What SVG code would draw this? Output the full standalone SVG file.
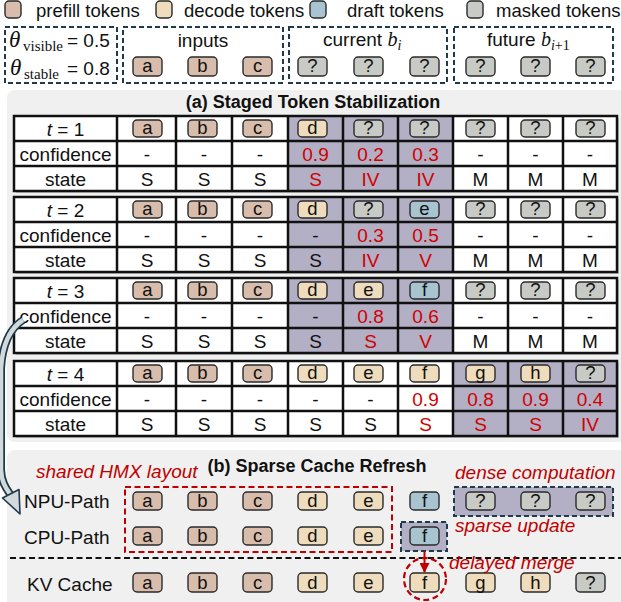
<svg xmlns="http://www.w3.org/2000/svg" width="621" height="602" viewBox="0 0 621 602">
<defs>
<style>
text{font-family:"Liberation Sans",Arial,sans-serif;fill:#111}
.lg{font-size:18.5px}
.t19{font-size:19px}
.c{text-anchor:middle}
.tk{font-size:18.5px;text-anchor:middle}
.red{fill:#d00000}
.ri{fill:#c00000;font-style:italic;font-size:19px}
.bold{font-weight:bold;font-size:18px;text-anchor:middle}
.serif{font-family:"Liberation Serif","Times New Roman",serif}
.tok{stroke:#2a2a2a;stroke-width:1.4}
.pre{fill:#d9bdac}
.dec{fill:#eedcbd}
.dra{fill:#a8c4d0}
.msk{fill:#c8cbc5}
.shade{fill:#b3afc5}
.dbox{fill:none;stroke:#1f3a4d;stroke-width:2;stroke-dasharray:5 3}
.grid{stroke:#111;stroke-width:2.5;fill:none}
.cellbg{fill:#fff}
.sec{fill:#f0f0f0}
</style>
<marker id="redhead" viewBox="0 0 10 10" refX="9" refY="5" markerWidth="5" markerHeight="5" orient="auto">
<path d="M0,0 L10,5 L0,10 z" fill="#c00000"/>
</marker>
</defs>
<rect width="621" height="602" fill="#fff"/>

<!-- legend -->
<g id="legend">
<rect class="tok pre" x="5" y="1" width="16" height="17" rx="4"/>
<text class="lg" x="36" y="17">prefill tokens</text>
<rect class="tok dec" x="156" y="1" width="16" height="17" rx="4"/>
<text class="lg" x="184" y="17">decode tokens</text>
<rect class="tok dra" x="310" y="1" width="16" height="17" rx="4"/>
<text class="lg" x="347" y="17">draft tokens</text>
<rect class="tok msk" x="467" y="1" width="16" height="17" rx="4"/>
<text class="lg" x="496" y="17">masked tokens</text>
</g>

<!-- thresholds -->
<g id="thresholds">
<rect class="dbox" x="5" y="27" width="112" height="56"/>
<text x="9" y="47" class="serif" font-style="italic" font-size="23">θ</text>
<text x="23" y="51" class="serif" font-size="15">visible</text>
<text x="67" y="47" class="t19">= 0.5</text>
<text x="10" y="75" class="serif" font-style="italic" font-size="23">θ</text>
<text x="24" y="79" class="serif" font-size="15">stable</text>
<text x="67" y="75" class="t19">= 0.8</text>
</g>

<g id="inputs">
<rect class="dbox" x="123" y="27" width="160" height="56"/>
<text class="t19 c" x="203" y="47">inputs</text>
<rect class="tok pre" x="133" y="57" width="29" height="19" rx="4"/><text class="tk" x="147.5" y="72">a</text>
<rect class="tok pre" x="188" y="57" width="29" height="19" rx="4"/><text class="tk" x="202.5" y="72">b</text>
<rect class="tok pre" x="243" y="57" width="29" height="19" rx="4"/><text class="tk" x="257.5" y="72">c</text>
</g>

<g id="current">
<rect class="dbox" x="289" y="27" width="158" height="56"/>
<text class="t19" x="323" y="46">current <tspan class="serif" font-style="italic" font-size="20">b</tspan><tspan class="serif" font-style="italic" font-size="14" dy="4">i</tspan></text>
<rect class="tok msk" x="298" y="57" width="29" height="19" rx="4"/><text class="tk" x="312.5" y="72">?</text>
<rect class="tok msk" x="354" y="57" width="29" height="19" rx="4"/><text class="tk" x="368.5" y="72">?</text>
<rect class="tok msk" x="410" y="57" width="29" height="19" rx="4"/><text class="tk" x="424.5" y="72">?</text>
</g>

<g id="future">
<rect class="dbox" x="454" y="27" width="159" height="56"/>
<text class="t19" x="487" y="46">future <tspan class="serif" font-style="italic" font-size="20">b</tspan><tspan class="serif" font-size="14" dy="4"><tspan font-style="italic">i</tspan>+1</tspan></text>
<rect class="tok msk" x="466" y="57" width="29" height="19" rx="4"/><text class="tk" x="480.5" y="72">?</text>
<rect class="tok msk" x="521" y="57" width="29" height="19" rx="4"/><text class="tk" x="535.5" y="72">?</text>
<rect class="tok msk" x="576" y="57" width="29" height="19" rx="4"/><text class="tk" x="590.5" y="72">?</text>
</g>

<!-- section a -->
<g id="section-a">
<rect class="sec" x="7" y="90" width="630" height="352" rx="8"/>
<text class="bold" x="313" y="108">(a) Staged Token Stabilization</text>

<!-- table t=1 -->
<g id="table-t1">
<rect x="16" y="118" width="603" height="75" fill="#c4c4c4"/>
<rect class="cellbg" x="14" y="116" width="603" height="75"/>
<rect class="shade" x="288" y="116" width="165" height="75"/>
<path class="grid" d="M14,141H617M14,166H617M117,116V191M176,116V191M232,116V191M288,116V191M343,116V191M398,116V191M453,116V191M508,116V191M563,116V191"/>
<rect class="grid" x="14" y="116" width="603" height="75" stroke-width="3"/>
<text class="t19 c" x="65.5" y="135.5"><tspan font-style="italic">t</tspan> = 1</text>
<rect class="tok pre" x="133" y="120" width="29" height="17" rx="4"/><text class="tk" x="147.5" y="134">a</text>
<rect class="tok pre" x="188" y="120" width="29" height="17" rx="4"/><text class="tk" x="202.5" y="134">b</text>
<rect class="tok pre" x="243" y="120" width="29" height="17" rx="4"/><text class="tk" x="257.5" y="134">c</text>
<rect class="tok dec" x="298" y="120" width="29" height="17" rx="4"/><text class="tk" x="312.5" y="134">d</text>
<rect class="tok msk" x="354" y="120" width="29" height="17" rx="4"/><text class="tk" x="368.5" y="134">?</text>
<rect class="tok msk" x="410" y="120" width="29" height="17" rx="4"/><text class="tk" x="424.5" y="134">?</text>
<rect class="tok msk" x="466" y="120" width="29" height="17" rx="4"/><text class="tk" x="480.5" y="134">?</text>
<rect class="tok msk" x="521" y="120" width="29" height="17" rx="4"/><text class="tk" x="535.5" y="134">?</text>
<rect class="tok msk" x="576" y="120" width="29" height="17" rx="4"/><text class="tk" x="590.5" y="134">?</text>
<text class="t19 c" x="65.5" y="160.5">confidence</text>
<text class="t19 c" x="147" y="160.5">-</text><text class="t19 c" x="204" y="160.5">-</text><text class="t19 c" x="260" y="160.5">-</text>
<text class="t19 c red" x="315.5" y="160.5">0.9</text><text class="t19 c red" x="370.5" y="160.5">0.2</text><text class="t19 c red" x="425.5" y="160.5">0.3</text>
<text class="t19 c" x="480.5" y="160.5">-</text><text class="t19 c" x="535.5" y="160.5">-</text><text class="t19 c" x="590" y="160.5">-</text>
<text class="t19 c" x="65.5" y="185.5">state</text>
<text class="t19 c" x="147" y="185.5">S</text><text class="t19 c" x="204" y="185.5">S</text><text class="t19 c" x="260" y="185.5">S</text>
<text class="t19 c red" x="315.5" y="185.5">S</text><text class="t19 c red" x="370.5" y="185.5">IV</text><text class="t19 c red" x="425.5" y="185.5">IV</text>
<text class="t19 c" x="480.5" y="185.5">M</text><text class="t19 c" x="535.5" y="185.5">M</text><text class="t19 c" x="590" y="185.5">M</text>
</g>

<!-- table t=2 -->
<g id="table-t2">
<rect x="16" y="199" width="603" height="75" fill="#c4c4c4"/>
<rect class="cellbg" x="14" y="197" width="603" height="75"/>
<rect class="shade" x="288" y="197" width="165" height="75"/>
<path class="grid" d="M14,222H617M14,247H617M117,197V272M176,197V272M232,197V272M288,197V272M343,197V272M398,197V272M453,197V272M508,197V272M563,197V272"/>
<rect class="grid" x="14" y="197" width="603" height="75" stroke-width="3"/>
<text class="t19 c" x="65.5" y="216.5"><tspan font-style="italic">t</tspan> = 2</text>
<rect class="tok pre" x="133" y="201" width="29" height="17" rx="4"/><text class="tk" x="147.5" y="215">a</text>
<rect class="tok pre" x="188" y="201" width="29" height="17" rx="4"/><text class="tk" x="202.5" y="215">b</text>
<rect class="tok pre" x="243" y="201" width="29" height="17" rx="4"/><text class="tk" x="257.5" y="215">c</text>
<rect class="tok dec" x="298" y="201" width="29" height="17" rx="4"/><text class="tk" x="312.5" y="215">d</text>
<rect class="tok msk" x="354" y="201" width="29" height="17" rx="4"/><text class="tk" x="368.5" y="215">?</text>
<rect class="tok dra" x="410" y="201" width="29" height="17" rx="4"/><text class="tk" x="424.5" y="215">e</text>
<rect class="tok msk" x="466" y="201" width="29" height="17" rx="4"/><text class="tk" x="480.5" y="215">?</text>
<rect class="tok msk" x="521" y="201" width="29" height="17" rx="4"/><text class="tk" x="535.5" y="215">?</text>
<rect class="tok msk" x="576" y="201" width="29" height="17" rx="4"/><text class="tk" x="590.5" y="215">?</text>
<text class="t19 c" x="65.5" y="241.5">confidence</text>
<text class="t19 c" x="147" y="241.5">-</text><text class="t19 c" x="204" y="241.5">-</text><text class="t19 c" x="260" y="241.5">-</text>
<text class="t19 c" x="315.5" y="241.5">-</text><text class="t19 c red" x="370.5" y="241.5">0.3</text><text class="t19 c red" x="425.5" y="241.5">0.5</text>
<text class="t19 c" x="480.5" y="241.5">-</text><text class="t19 c" x="535.5" y="241.5">-</text><text class="t19 c" x="590" y="241.5">-</text>
<text class="t19 c" x="65.5" y="266.5">state</text>
<text class="t19 c" x="147" y="266.5">S</text><text class="t19 c" x="204" y="266.5">S</text><text class="t19 c" x="260" y="266.5">S</text>
<text class="t19 c" x="315.5" y="266.5">S</text><text class="t19 c red" x="370.5" y="266.5">IV</text><text class="t19 c red" x="425.5" y="266.5">V</text>
<text class="t19 c" x="480.5" y="266.5">M</text><text class="t19 c" x="535.5" y="266.5">M</text><text class="t19 c" x="590" y="266.5">M</text>
</g>

<!-- table t=3 -->
<g id="table-t3">
<rect x="16" y="280" width="603" height="75" fill="#c4c4c4"/>
<rect class="cellbg" x="14" y="278" width="603" height="75"/>
<rect class="shade" x="288" y="278" width="165" height="75"/>
<path class="grid" d="M14,303H617M14,328H617M117,278V353M176,278V353M232,278V353M288,278V353M343,278V353M398,278V353M453,278V353M508,278V353M563,278V353"/>
<rect class="grid" x="14" y="278" width="603" height="75" stroke-width="3"/>
<text class="t19 c" x="65.5" y="297.5"><tspan font-style="italic">t</tspan> = 3</text>
<rect class="tok pre" x="133" y="282" width="29" height="17" rx="4"/><text class="tk" x="147.5" y="296">a</text>
<rect class="tok pre" x="188" y="282" width="29" height="17" rx="4"/><text class="tk" x="202.5" y="296">b</text>
<rect class="tok pre" x="243" y="282" width="29" height="17" rx="4"/><text class="tk" x="257.5" y="296">c</text>
<rect class="tok dec" x="298" y="282" width="29" height="17" rx="4"/><text class="tk" x="312.5" y="296">d</text>
<rect class="tok dec" x="354" y="282" width="29" height="17" rx="4"/><text class="tk" x="368.5" y="296">e</text>
<rect class="tok dra" x="410" y="282" width="29" height="17" rx="4"/><text class="tk" x="424.5" y="296">f</text>
<rect class="tok msk" x="466" y="282" width="29" height="17" rx="4"/><text class="tk" x="480.5" y="296">?</text>
<rect class="tok msk" x="521" y="282" width="29" height="17" rx="4"/><text class="tk" x="535.5" y="296">?</text>
<rect class="tok msk" x="576" y="282" width="29" height="17" rx="4"/><text class="tk" x="590.5" y="296">?</text>
<text class="t19 c" x="65.5" y="322.5">confidence</text>
<text class="t19 c" x="147" y="322.5">-</text><text class="t19 c" x="204" y="322.5">-</text><text class="t19 c" x="260" y="322.5">-</text>
<text class="t19 c" x="315.5" y="322.5">-</text><text class="t19 c red" x="370.5" y="322.5">0.8</text><text class="t19 c red" x="425.5" y="322.5">0.6</text>
<text class="t19 c" x="480.5" y="322.5">-</text><text class="t19 c" x="535.5" y="322.5">-</text><text class="t19 c" x="590" y="322.5">-</text>
<text class="t19 c" x="65.5" y="347.5">state</text>
<text class="t19 c" x="147" y="347.5">S</text><text class="t19 c" x="204" y="347.5">S</text><text class="t19 c" x="260" y="347.5">S</text>
<text class="t19 c" x="315.5" y="347.5">S</text><text class="t19 c red" x="370.5" y="347.5">S</text><text class="t19 c red" x="425.5" y="347.5">V</text>
<text class="t19 c" x="480.5" y="347.5">M</text><text class="t19 c" x="535.5" y="347.5">M</text><text class="t19 c" x="590" y="347.5">M</text>
</g>

<!-- table t=4 -->
<g id="table-t4">
<rect x="16" y="363" width="603" height="75" fill="#c4c4c4"/>
<rect class="cellbg" x="14" y="361" width="603" height="75"/>
<rect class="shade" x="453" y="361" width="164" height="75"/>
<path class="grid" d="M14,386H617M14,411H617M117,361V436M176,361V436M232,361V436M288,361V436M343,361V436M398,361V436M453,361V436M508,361V436M563,361V436"/>
<rect class="grid" x="14" y="361" width="603" height="75" stroke-width="3"/>
<text class="t19 c" x="65.5" y="380.5"><tspan font-style="italic">t</tspan> = 4</text>
<rect class="tok pre" x="133" y="365" width="29" height="17" rx="4"/><text class="tk" x="147.5" y="379">a</text>
<rect class="tok pre" x="188" y="365" width="29" height="17" rx="4"/><text class="tk" x="202.5" y="379">b</text>
<rect class="tok pre" x="243" y="365" width="29" height="17" rx="4"/><text class="tk" x="257.5" y="379">c</text>
<rect class="tok dec" x="298" y="365" width="29" height="17" rx="4"/><text class="tk" x="312.5" y="379">d</text>
<rect class="tok dec" x="354" y="365" width="29" height="17" rx="4"/><text class="tk" x="368.5" y="379">e</text>
<rect class="tok dec" x="410" y="365" width="29" height="17" rx="4"/><text class="tk" x="424.5" y="379">f</text>
<rect class="tok dec" x="466" y="365" width="29" height="17" rx="4"/><text class="tk" x="480.5" y="379">g</text>
<rect class="tok dec" x="521" y="365" width="29" height="17" rx="4"/><text class="tk" x="535.5" y="379">h</text>
<rect class="tok msk" x="576" y="365" width="29" height="17" rx="4"/><text class="tk" x="590.5" y="379">?</text>
<text class="t19 c" x="65.5" y="405.5">confidence</text>
<text class="t19 c" x="147" y="405.5">-</text><text class="t19 c" x="204" y="405.5">-</text><text class="t19 c" x="260" y="405.5">-</text>
<text class="t19 c" x="315.5" y="405.5">-</text><text class="t19 c" x="370.5" y="405.5">-</text><text class="t19 c red" x="425.5" y="405.5">0.9</text>
<text class="t19 c red" x="480.5" y="405.5">0.8</text><text class="t19 c red" x="535.5" y="405.5">0.9</text><text class="t19 c red" x="590" y="405.5">0.4</text>
<text class="t19 c" x="65.5" y="430.5">state</text>
<text class="t19 c" x="147" y="430.5">S</text><text class="t19 c" x="204" y="430.5">S</text><text class="t19 c" x="260" y="430.5">S</text>
<text class="t19 c" x="315.5" y="430.5">S</text><text class="t19 c" x="370.5" y="430.5">S</text><text class="t19 c red" x="425.5" y="430.5">S</text>
<text class="t19 c red" x="480.5" y="430.5">S</text><text class="t19 c red" x="535.5" y="430.5">S</text><text class="t19 c red" x="590" y="430.5">IV</text>
</g>
</g>

<!-- section b -->
<g id="section-b">
<rect class="sec" x="7" y="450" width="630" height="170" rx="8"/>
<text class="bold" x="317" y="472">(b) Sparse Cache Refresh</text>
<text class="ri" x="36" y="478">shared HMX layout</text>
<text class="ri" x="455" y="479">dense computation</text>

<g id="npu-path">
<text class="t19" x="24" y="508">NPU-Path</text>
<rect class="tok pre" x="133" y="492" width="29" height="18" rx="4"/><text class="tk" x="147.5" y="507">a</text>
<rect class="tok pre" x="188" y="492" width="29" height="18" rx="4"/><text class="tk" x="202.5" y="507">b</text>
<rect class="tok pre" x="243" y="492" width="29" height="18" rx="4"/><text class="tk" x="257.5" y="507">c</text>
<rect class="tok dec" x="298" y="492" width="29" height="18" rx="4"/><text class="tk" x="312.5" y="507">d</text>
<rect class="tok dec" x="354" y="492" width="29" height="18" rx="4"/><text class="tk" x="368.5" y="507">e</text>
<rect class="tok dra" x="410" y="492" width="29" height="18" rx="4"/><text class="tk" x="424.5" y="507">f</text>
</g>

<g id="dense-box">
<rect x="454" y="487" width="159" height="29" fill="#b3afc5" stroke="#1f3a4d" stroke-width="2" stroke-dasharray="5 3"/>
<rect class="tok msk" x="466" y="492" width="29" height="18" rx="4"/><text class="tk" x="480.5" y="507">?</text>
<rect class="tok msk" x="521" y="492" width="29" height="18" rx="4"/><text class="tk" x="535.5" y="507">?</text>
<rect class="tok msk" x="576" y="492" width="29" height="18" rx="4"/><text class="tk" x="590.5" y="507">?</text>
</g>

<g id="cpu-path">
<text class="t19" x="24" y="544">CPU-Path</text>
<rect class="tok pre" x="133" y="527" width="29" height="18" rx="4"/><text class="tk" x="147.5" y="542">a</text>
<rect class="tok pre" x="188" y="527" width="29" height="18" rx="4"/><text class="tk" x="202.5" y="542">b</text>
<rect class="tok pre" x="243" y="527" width="29" height="18" rx="4"/><text class="tk" x="257.5" y="542">c</text>
<rect class="tok dec" x="298" y="527" width="29" height="18" rx="4"/><text class="tk" x="312.5" y="542">d</text>
<rect class="tok dec" x="354" y="527" width="29" height="18" rx="4"/><text class="tk" x="368.5" y="542">e</text>
</g>

<g id="sparse-box">
<rect x="401" y="522" width="46" height="29" fill="#b3afc5" stroke="#1f3a4d" stroke-width="2" stroke-dasharray="5 3"/>
<rect class="tok dra" x="410" y="527" width="29" height="18" rx="4"/><text class="tk" x="424.5" y="542">f</text>
</g>
<text class="ri" x="455" y="532">sparse update</text>

<rect id="hmx-box" x="125" y="487" width="267" height="65" fill="none" stroke="#c00000" stroke-width="2" stroke-dasharray="6 3.5"/>

<line x1="10" y1="558" x2="621" y2="558" stroke="#111" stroke-width="2" stroke-dasharray="6 3.5"/>

<g id="kv-cache">
<text class="t19" x="27" y="591">KV Cache</text>
<rect class="tok pre" x="133" y="573" width="29" height="19" rx="4"/><text class="tk" x="147.5" y="589">a</text>
<rect class="tok pre" x="188" y="573" width="29" height="19" rx="4"/><text class="tk" x="202.5" y="589">b</text>
<rect class="tok pre" x="243" y="573" width="29" height="19" rx="4"/><text class="tk" x="257.5" y="589">c</text>
<rect class="tok dec" x="298" y="573" width="29" height="19" rx="4"/><text class="tk" x="312.5" y="589">d</text>
<rect class="tok dec" x="354" y="573" width="29" height="19" rx="4"/><text class="tk" x="368.5" y="589">e</text>
<rect class="tok dec" x="410" y="573" width="29" height="19" rx="4"/><text class="tk" x="424.5" y="589">f</text>
<rect class="tok dec" x="466" y="573" width="29" height="19" rx="4"/><text class="tk" x="480.5" y="589">g</text>
<rect class="tok dec" x="521" y="573" width="29" height="19" rx="4"/><text class="tk" x="535.5" y="589">h</text>
<rect class="tok msk" x="576" y="573" width="29" height="19" rx="4"/><text class="tk" x="590.5" y="589">?</text>
</g>
<text class="ri" x="449" y="569">delayed merge</text>
</g>

<!-- connectors -->
<g id="connectors">
<circle cx="425" cy="579" r="21" fill="none" stroke="#c00000" stroke-width="2.2" stroke-dasharray="6 3.5"/>
<line x1="424.5" y1="551" x2="424.5" y2="572" stroke="#c00000" stroke-width="2" marker-end="url(#redhead)"/>
<path d="M23,320 C9,329 2.5,345 1,368 L1,470 C1.5,482 6,488 10,494" fill="none" stroke="#1f3a4d" stroke-width="8"/>
<path d="M23,320 C9,329 2.5,345 1,368 L1,470 C1.5,482 6,488 10,494" fill="none" stroke="#d3d8da" stroke-width="4.5"/>
<polygon points="19,489.5 20,514 2.5,498" fill="#d3d8da" stroke="#1f3a4d" stroke-width="1.6" stroke-linejoin="round"/>
</g>
</svg>
